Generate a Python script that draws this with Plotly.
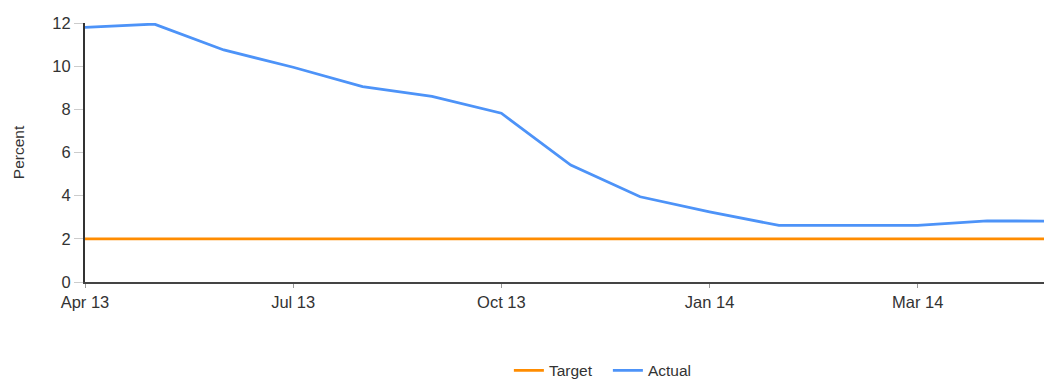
import plotly.graph_objects as go

# Monthly observations (one point per month slot on the category axis)
months = ["Apr 13", "May 13", "Jun 13", "Jul 13", "Aug 13", "Sep 13", "Oct 13",
          "Nov 13", "Dec 13", "Jan 14", "Feb 14", "Feb 14b", "Mar 14", "Apr 14", "May 14"]
actual = [11.8, 11.95, 10.75, 9.95, 9.05, 8.6, 7.82, 5.42, 3.95, 3.25, 2.62, 2.63, 2.62, 2.83, 2.82]
target = [2.0] * len(months)

tick_labels = ["Apr 13", "Jul 13", "Oct 13", "Jan 14", "Mar 14"]
tick_index = [0, 3, 6, 9, 12]

x_pos = list(range(len(months)))

fig = go.Figure()
fig.add_trace(go.Scatter(x=x_pos, y=target, name="Target", mode="lines",
                         line=dict(color="#ff8c00", width=2.8), hoverinfo="skip"))
fig.add_trace(go.Scatter(x=x_pos, y=actual, name="Actual", mode="lines",
                         line=dict(color="#4d93f8", width=2.8),
                         text=months, hovertemplate="%{text}: %{y}<extra></extra>"))

font = "Liberation Sans, Arial, sans-serif"
fig.update_layout(
    width=1044, height=381,
    margin=dict(l=85, r=0, t=23, b=99, autoexpand=False),
    paper_bgcolor="white", plot_bgcolor="white",
    font=dict(family=font, color="#333333", size=16),
    xaxis=dict(range=[0, 13.82], tickmode="array", tickvals=tick_index, ticktext=tick_labels,
               showgrid=False, zeroline=False, showline=True, linecolor="#444444", linewidth=2,
               ticks="outside", ticklen=4, tickcolor="#999999", tickwidth=1,
               tickfont=dict(size=16.5)),
    yaxis=dict(range=[0, 12], tickvals=[0, 2, 4, 6, 8, 10, 12],
               showgrid=False, zeroline=False, showline=True, linecolor="#333333", linewidth=2,
               ticks="outside", ticklen=9, tickcolor="#cccccc", tickwidth=1,
               tickfont=dict(size=16.5),
               title=dict(text="Percent", font=dict(size=15.5), standoff=24)),
    legend=dict(orientation="h", x=0.442, xanchor="left", y=-0.343, yanchor="middle",
                font=dict(size=15.5), itemwidth=30, entrywidth=54, entrywidthmode="pixels"),
    showlegend=True,
)

fig.write_html("out.html")
